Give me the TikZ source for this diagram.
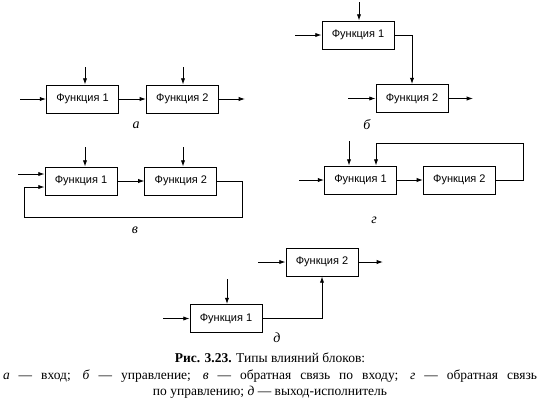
\documentclass[tikz,border=0pt]{standalone}
\usepackage{fontspec}
\setmainfont{Liberation Serif}
\newfontfamily\blokfont{Liberation Sans}
\usetikzlibrary{arrows.meta, positioning, calc}
\tikzset{
  blok/.style={rectangle, draw, line width=0.9pt, minimum width=72pt,
               minimum height=28pt, inner sep=0pt, font=\blokfont\fontsize{11}{12}\selectfont},
  strelka/.style={-{Latex[length=2.2mm, width=1.5mm]}, line width=0.9pt},
  podpis/.style={font=\fontsize{14}{16}\selectfont\itshape}
}

\begin{document}
\begin{tikzpicture}[x=1pt, y=-1pt, node distance=27pt]
  \useasboundingbox (0,0) rectangle (540,407);
  % а -- вход
  \node[blok] (a1) at (82.5,99) {Функция 1};
  \node[blok, right=of a1] (a2) {Функция 2};
  \coordinate (a0) at (20,99);
  \coordinate (ay) at (245,99);
  \coordinate (au1) at (85,67);
  \coordinate (au2) at (183,67);
  \draw[strelka] (a0) -- (a1);
  \draw[strelka] (a1) -- (a2);
  \draw[strelka] (a2) -- (ay);
  \draw[strelka] (au1) -- (au1 |- a1.north);
  \draw[strelka] (au2) -- (au2 |- a2.north);
  \node[podpis] (la) at (136,125) {а};

  % б -- управление
  \node[blok] (b1) at (358,35) {Функция 1};
  \node[blok] (b2) at (412,98.5) {Функция 2};
  \coordinate (b0) at (295,35);
  \coordinate (bu) at (359,2);
  \coordinate (bv) at (348,98.5);
  \coordinate (by) at (473,98.5);
  \draw[strelka] (b0) -- (b1);
  \draw[strelka] (bu) -- (bu |- b1.north);
  \draw[strelka] (b1) -| (b2);
  \draw[strelka] (bv) -- (b2);
  \draw[strelka] (b2) -- (by);
  \node[podpis] (lb) at (367,125) {б};

  % в -- обратная связь по входу
  \node[blok] (c1) at (81,181) {Функция 1};
  \node[blok, right=of c1] (c2) {Функция 2};
  \coordinate (c0) at (18,174);
  \coordinate (cu1) at (85,147);
  \coordinate (cu2) at (183,147);
  \coordinate (cs) at (24,217);
  \draw[strelka] (c0) -- (c0 -| c1.west);
  \draw[strelka] (c1) -- (c2);
  \draw[strelka] (cu1) -- (cu1 |- c1.north);
  \draw[strelka] (cu2) -- (cu2 |- c2.north);
  \draw[strelka] (c2.east) -- ++(25,0) |- (cs) |- ($(c1.west)+(0,6)$);
  \node[podpis] (lc) at (135,230) {в};

  % г -- обратная связь по управлению
  \node[blok] (d1) at (360.5,180) {Функция 1};
  \node[blok, right=26pt of d1] (d2) {Функция 2};
  \coordinate (d0) at (299,180);
  \coordinate (du) at (349,141);
  \coordinate (dk) at (376,143);
  \draw[strelka] (d0) -- (d1);
  \draw[strelka] (d1) -- (d2);
  \draw[strelka] (du) -- (du |- d1.north);
  \draw[strelka] (d2.east) -- ++(28,0) |- (dk) -- (dk |- d1.north);
  \node[podpis] (ld) at (374,220) {г};

  % д -- выход-исполнитель
  \node[blok] (e1) at (226,318.5) {Функция 1};
  \node[blok] (e2) at (322,262) {Функция 2};
  \coordinate (e0) at (163,318.5);
  \coordinate (eu) at (227,279);
  \coordinate (ev) at (258,262);
  \coordinate (ey) at (383,262);
  \draw[strelka] (e0) -- (e1);
  \draw[strelka] (eu) -- (eu |- e1.north);
  \draw[strelka] (e1) -| (e2);
  \draw[strelka] (ev) -- (e2);
  \draw[strelka] (e2) -- (ey);
  \node[podpis] (le) at (277,338) {д};

  % подпись к рисунку
  \node[anchor=north, align=center, font=\fontsize{13.5}{16.5}\selectfont, inner sep=0pt]
    (cap) at (270,353)
    {\textbf{Рис. 3.23.} Типы влияний блоков:\\
     \makebox[534pt][s]{\textit{а} — вход; \textit{б} — управление; \textit{в} — обратная связь по входу; \textit{г} — обратная связь}\\
     по управлению; \textit{д} — выход-исполнитель};
\end{tikzpicture}
\end{document}
